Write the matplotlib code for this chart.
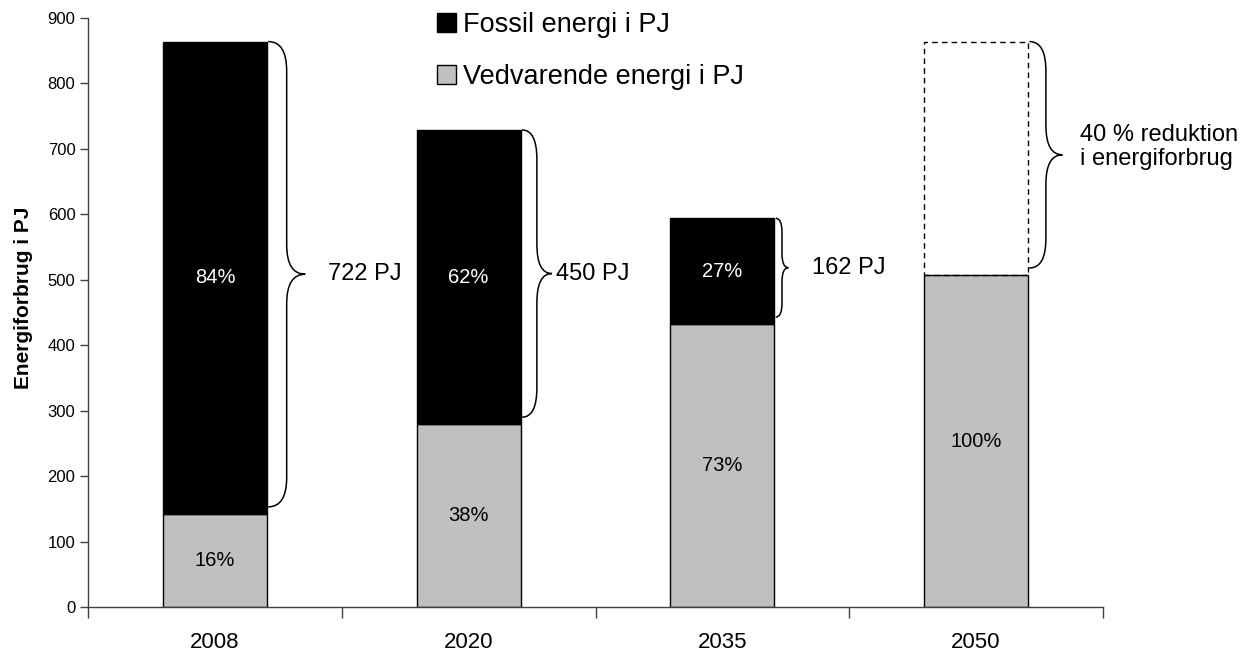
import matplotlib.pyplot as plt
from matplotlib.path import Path
from matplotlib.patches import PathPatch, Patch

plt.rcParams['font.family'] = ['Liberation Sans', 'DejaVu Sans']

# Energiforbrug i PJ
years = ['2008', '2020', '2035', '2050']
vedvarende = [142, 279, 432, 507]
fossil = [722, 450, 162, 0]
vedvarende_pct = ['16%', '38%', '73%', '100%']
fossil_pct = ['84%', '62%', '27%', '']
niveau_2008 = 864  # dashed outline for 2050

# braces to the right of each bar: label, tip width, text offset
brace_labels = ['722 PJ', '450 PJ', '162 PJ', '40 % reduktion\ni energiforbrug']
brace_width = [0.146, 0.118, 0.05, 0.13]
label_offset = [0.091, 0.018, 0.094, 0.068]

x = list(range(len(years)))
totals = [v + f for v, f in zip(vedvarende, fossil)]


def draw_brace(ax, x0, w, yb, yt):
    xm = x0 + w / 2
    x1 = x0 + w
    ym = (yb + yt) / 2
    r = min(45, (yt - yb) * 0.14)
    verts = [(x0, yt), (xm, yt), (xm, yt - r), (xm, ym + r), (xm, ym), (x1, ym),
             (xm, ym), (xm, ym - r), (xm, yb + r), (xm, yb), (x0, yb)]
    codes = [Path.MOVETO, Path.CURVE3, Path.CURVE3, Path.LINETO, Path.CURVE3, Path.CURVE3,
             Path.CURVE3, Path.CURVE3, Path.LINETO, Path.CURVE3, Path.CURVE3]
    ax.add_patch(PathPatch(Path(verts, codes), facecolor='none', edgecolor='black', lw=1.1))
    return x1, ym


fig = plt.figure(figsize=(12.54, 6.52), dpi=100)
ax = fig.add_axes([88 / 1254, 45 / 652, 1015 / 1254, 589 / 652])

bw = 0.41
ax.bar(x, vedvarende, width=bw, color='#c0c0c0', edgecolor='black', lw=1)
ax.bar(x[:3], fossil[:3], bottom=vedvarende[:3], width=bw, color='black', edgecolor='black', lw=1)
# 2050: dashed outline up to the 2008 level
ax.bar(x[3], niveau_2008 - vedvarende[3], bottom=vedvarende[3], width=bw,
       facecolor='none', edgecolor='black', lw=1, linestyle=(0, (4, 3)))

for i in x:
    ax.text(i, vedvarende[i] / 2, vedvarende_pct[i], ha='center', va='center', fontsize=14.5, color='black')
    if fossil_pct[i]:
        ax.text(i, vedvarende[i] + fossil[i] / 2, fossil_pct[i], ha='center', va='center',
                fontsize=14.5, color='white')

for i in x:
    top = totals[i] if fossil[i] else niveau_2008
    tip_x, tip_y = draw_brace(ax, i + 0.21, brace_width[i], vedvarende[i] + 11, top)
    if i == 3:
        ax.text(tip_x + label_offset[i], tip_y + 12, brace_labels[i], ha='left', va='center',
                fontsize=17, linespacing=1.15)
    else:
        ax.text(tip_x + label_offset[i], tip_y, brace_labels[i], ha='left', va='center', fontsize=17)

ax.set_xlim(-0.5, 3.5)
ax.set_ylim(0, 900)
ax.set_yticks(range(0, 901, 100))
ax.tick_params(axis='y', labelsize=12, length=6, width=1, color='#404040', pad=3)

ax.set_xticks([i - 0.5 for i in range(len(years) + 1)])
ax.set_xticklabels([])
ax.tick_params(axis='x', which='major', length=8, width=1, color='#404040')
ax.set_xticks(x, minor=True)
ax.set_xticklabels(years, minor=True)
ax.tick_params(axis='x', which='minor', length=0, labelsize=16, pad=18)

for s in ['top', 'right']:
    ax.spines[s].set_visible(False)
for s in ['left', 'bottom']:
    ax.spines[s].set_color('#404040')
    ax.spines[s].set_linewidth(1)

ax.set_ylabel('Energiforbrug i PJ', fontsize=15, fontweight='bold')
ax.yaxis.set_label_coords(-0.054, 0.525)

handles = [Patch(facecolor='black', edgecolor='black', label='Fossil energi i PJ'),
           Patch(facecolor='#c0c0c0', edgecolor='black', label='Vedvarende energi i PJ')]
fig.legend(handles=handles, loc='upper left', bbox_to_anchor=(437 / 1254, 1 - 12 / 652),
           frameon=False, fontsize=19.5, handlelength=0.7, handleheight=0.7,
           handletextpad=0.25, labelspacing=0.95, borderpad=0, borderaxespad=0)

plt.savefig('out.png', dpi=100)
